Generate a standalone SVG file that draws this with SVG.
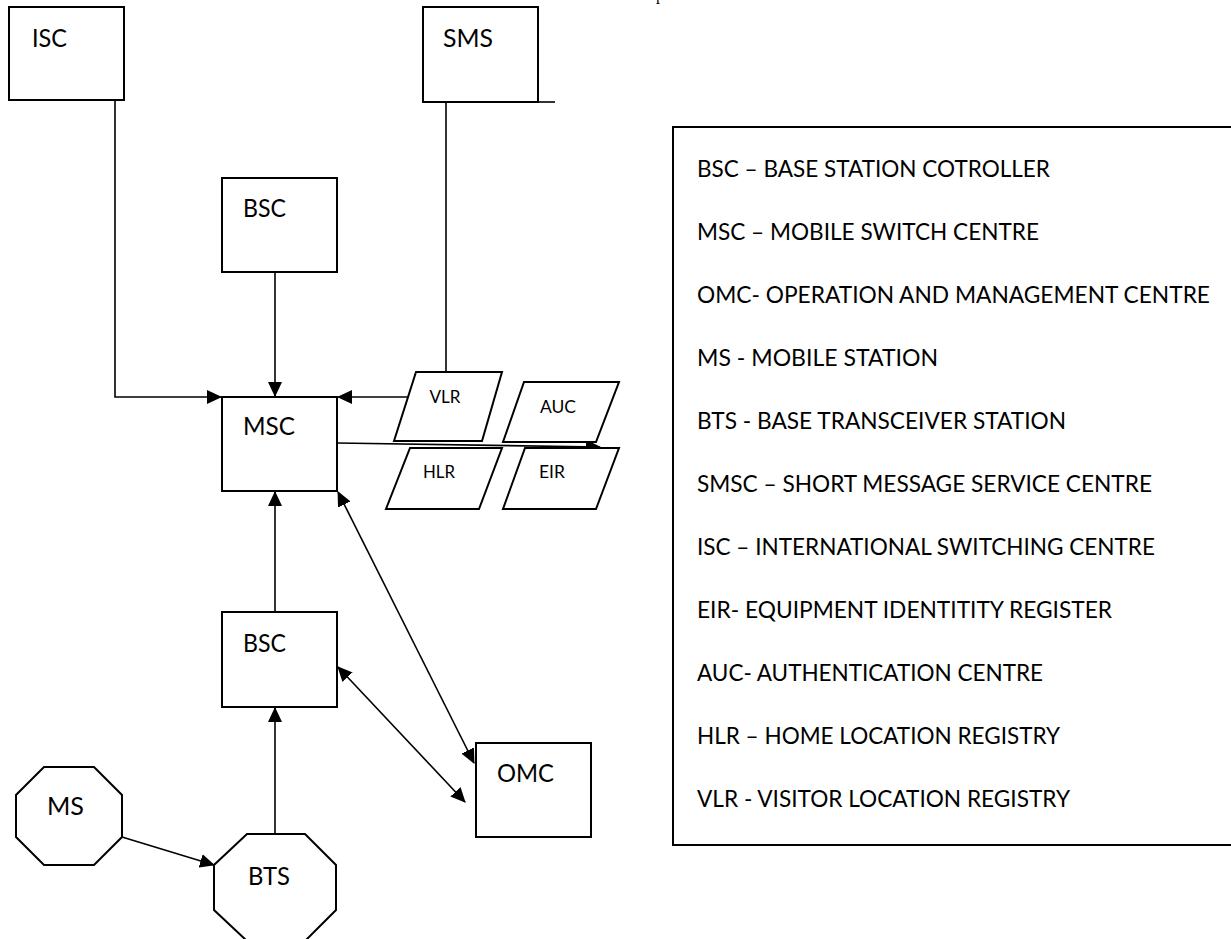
<svg xmlns="http://www.w3.org/2000/svg" width="1231" height="939" viewBox="0 0 1231 939">
<style>
.box{fill:#fff;stroke:#000;stroke-width:2}
.ln{fill:none;stroke:#000;stroke-width:1.6}
.lbl{font-family:Lato,"Open Sans",sans-serif;font-size:25px;fill:#000}
.sm{font-family:Lato,"Open Sans",sans-serif;font-size:18px;fill:#000;text-anchor:middle}
.lg{font-family:Lato,"Open Sans",sans-serif;font-size:23.5px;fill:#000}
</style>
<defs>
<marker id="ah" markerWidth="15" markerHeight="14" refX="14" refY="7" orient="auto-start-reverse" markerUnits="userSpaceOnUse">
<path d="M0,0 L15,7 L0,14 Z" fill="#000"/>
</marker>
</defs>
<rect width="1231" height="939" fill="#fff"/>
<text x="656" y="0" font-family="Liberation Serif,serif" font-size="16" fill="#000">p</text>

<g id="connectors">
<polyline class="ln" points="115,100 115,397 221,397" marker-end="url(#ah)"/>
<line class="ln" x1="275" y1="272" x2="275" y2="396" marker-end="url(#ah)"/>
<polyline class="ln" points="446,102 446,372"/>
<line class="ln" x1="408" y1="397" x2="338" y2="397" marker-end="url(#ah)"/>
<line class="ln" x1="337" y1="443" x2="600" y2="447" marker-end="url(#ah)"/>
<line class="ln" x1="275" y1="612" x2="275" y2="492" marker-end="url(#ah)"/>
<line class="ln" x1="275" y1="834" x2="275" y2="708" marker-end="url(#ah)"/>
<line class="ln" x1="122" y1="837" x2="214" y2="865" marker-end="url(#ah)"/>
<line class="ln" x1="338" y1="492" x2="474" y2="763" marker-start="url(#ah)" marker-end="url(#ah)"/>
<line class="ln" x1="338" y1="667" x2="465" y2="802" marker-start="url(#ah)" marker-end="url(#ah)"/>
<line class="ln" x1="538" y1="102" x2="555" y2="102"/>
</g>

<g id="isc"><rect class="box" x="9" y="7" width="115" height="93"/><text class="lbl" x="32" y="47" textLength="35" lengthAdjust="spacingAndGlyphs">ISC</text></g>
<g id="sms"><rect class="box" x="423" y="7" width="115" height="95"/><text class="lbl" x="443" y="47" textLength="50" lengthAdjust="spacingAndGlyphs">SMS</text></g>
<g id="bsc-top"><rect class="box" x="222" y="178" width="115" height="94"/><text class="lbl" x="243" y="217" textLength="43" lengthAdjust="spacingAndGlyphs">BSC</text></g>
<g id="msc"><rect class="box" x="222" y="397" width="115" height="94"/><text class="lbl" x="243" y="435" textLength="52" lengthAdjust="spacingAndGlyphs">MSC</text></g>
<g id="vlr"><polygon class="box" points="416,372 502,372 482,441 394,441"/><text class="sm" x="445" y="403" textLength="31" lengthAdjust="spacingAndGlyphs">VLR</text></g>
<g id="auc"><polygon class="box" points="524,382 619,382 596,442 503,442"/><text class="sm" x="558" y="413" textLength="36" lengthAdjust="spacingAndGlyphs">AUC</text></g>
<g id="hlr"><polygon class="box" points="410,448 502,448 479,509 386,509"/><text class="sm" x="439" y="478" textLength="32" lengthAdjust="spacingAndGlyphs">HLR</text></g>
<g id="eir"><polygon class="box" points="525,448 619,448 596,509 503,509"/><text class="sm" x="552" y="478" textLength="26" lengthAdjust="spacingAndGlyphs">EIR</text></g>
<g id="bsc-low"><rect class="box" x="222" y="612" width="115" height="95"/><text class="lbl" x="243" y="652" textLength="43" lengthAdjust="spacingAndGlyphs">BSC</text></g>
<g id="omc"><rect class="box" x="476" y="743" width="115" height="94"/><text class="lbl" x="497" y="782" textLength="57" lengthAdjust="spacingAndGlyphs">OMC</text></g>
<g id="ms"><polygon class="box" points="44,767 94,767 122,795 122,837 94,865 44,865 16,837 16,795"/><text class="lbl" x="47" y="815" textLength="37" lengthAdjust="spacingAndGlyphs">MS</text></g>
<g id="bts"><polygon class="box" points="247,834 305,834 336,865 336,910 305,941 247,941 214,910 214,865"/><text class="lbl" x="248" y="885" textLength="42" lengthAdjust="spacingAndGlyphs">BTS</text></g>

<g id="legend">
<polyline fill="none" stroke="#000" stroke-width="2" points="1232,127 673,127 673,845 1232,845"/>
<text class="lg" x="697" y="177" textLength="353" lengthAdjust="spacingAndGlyphs">BSC – BASE STATION COTROLLER</text>
<text class="lg" x="697" y="240" textLength="342" lengthAdjust="spacingAndGlyphs">MSC – MOBILE SWITCH CENTRE</text>
<text class="lg" x="697" y="303" textLength="513" lengthAdjust="spacingAndGlyphs">OMC- OPERATION AND MANAGEMENT CENTRE</text>
<text class="lg" x="697" y="366" textLength="241" lengthAdjust="spacingAndGlyphs">MS - MOBILE STATION</text>
<text class="lg" x="697" y="429" textLength="369" lengthAdjust="spacingAndGlyphs">BTS - BASE TRANSCEIVER STATION</text>
<text class="lg" x="697" y="492" textLength="455" lengthAdjust="spacingAndGlyphs">SMSC – SHORT MESSAGE SERVICE CENTRE</text>
<text class="lg" x="697" y="555" textLength="458" lengthAdjust="spacingAndGlyphs">ISC – INTERNATIONAL SWITCHING CENTRE</text>
<text class="lg" x="697" y="618" textLength="415" lengthAdjust="spacingAndGlyphs">EIR- EQUIPMENT IDENTITITY REGISTER</text>
<text class="lg" x="697" y="681" textLength="346" lengthAdjust="spacingAndGlyphs">AUC- AUTHENTICATION CENTRE</text>
<text class="lg" x="697" y="744" textLength="363" lengthAdjust="spacingAndGlyphs">HLR – HOME LOCATION REGISTRY</text>
<text class="lg" x="697" y="807" textLength="373" lengthAdjust="spacingAndGlyphs">VLR - VISITOR LOCATION REGISTRY</text>
</g>
</svg>
